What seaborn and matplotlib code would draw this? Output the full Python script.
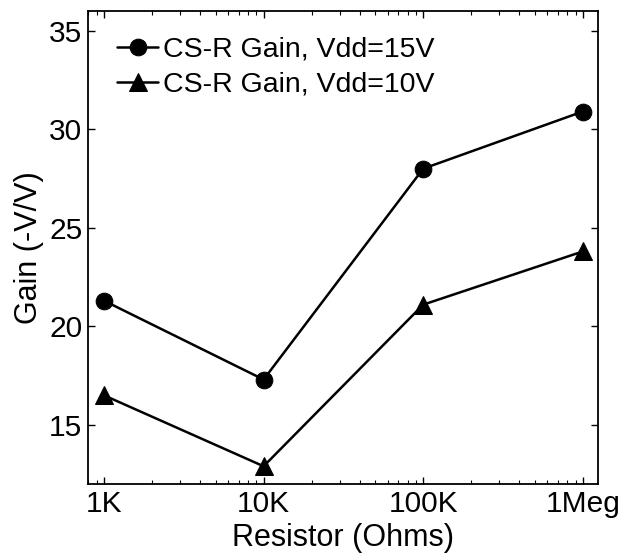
import matplotlib
matplotlib.use("Agg")
import matplotlib.pyplot as plt
import matplotlib.ticker as mticker
import numpy as np
import pandas as pd
import seaborn as sns

# Load resistor values (Ohms) and measured common-source gains
resistors = [1e3, 1e4, 1e5, 1e6]
tick_labels = ["1K", "10K", "100K", "1Meg"]
gain_vdd15 = [21.3, 17.3, 28.0, 30.9]
gain_vdd10 = [16.5, 12.9, 21.1, 23.8]
series_names = ["CS-R Gain, Vdd=15V", "CS-R Gain, Vdd=10V"]

df = pd.DataFrame({
    "Resistor": resistors * 2,
    "Gain": gain_vdd15 + gain_vdd10,
    "Series": [series_names[0]] * 4 + [series_names[1]] * 4,
})

sns.set_style("ticks")
plt.rcParams["font.family"] = ["Liberation Sans", "DejaVu Sans"]
plt.rcParams["text.color"] = "black"
plt.rcParams["axes.labelcolor"] = "black"

fig = plt.figure(figsize=(6.21, 5.57), dpi=100)
ax = fig.add_axes([88 / 621, 1 - 484 / 557, 510 / 621, 473 / 557])

sns.lineplot(
    data=df, x="Resistor", y="Gain", hue="Series", style="Series",
    palette=["black", "black"], markers={series_names[0]: "o", series_names[1]: "^"},
    dashes=False, markersize=12, markeredgecolor="black", linewidth=1.8,
    ax=ax,
)

# Triangles read a little small next to the circles; enlarge them
for ln in ax.lines:
    if ln.get_marker() == "^":
        ln.set_markersize(13.5)

ax.set_xscale("log")
ax.set_xlim(10 ** 2.9, 10 ** 6.095)
ax.set_ylim(12, 36)
ax.set_xticks(resistors)
ax.set_xticklabels(tick_labels)
ax.xaxis.set_minor_locator(mticker.LogLocator(base=10, subs=np.arange(2, 10)))
ax.xaxis.set_minor_formatter(mticker.NullFormatter())
ax.set_yticks([15, 20, 25, 30, 35])

for s in ax.spines.values():
    s.set_visible(True)
    s.set_linewidth(1.3)
    s.set_color("black")

ax.tick_params(which="both", direction="in", top=True, right=True, colors="black")
ax.tick_params(which="major", length=5, width=1, labelsize=21.5, pad=4)
ax.tick_params(which="minor", length=3, width=0.8)

ax.set_xlabel("Resistor (Ohms)", fontsize=22, labelpad=4)
ax.set_ylabel("Gain (-V/V)", fontsize=22, labelpad=4)

leg = ax.legend(loc="upper left", bbox_to_anchor=(0.035, 0.97), frameon=False,
                fontsize=20.5, handlelength=1.44, handletextpad=0.15,
                borderaxespad=0, labelspacing=0.33)
for h in leg.legend_handles:
    if h.get_marker() == "^":
        h.set_markersize(13.5)

fig.savefig("out.png", dpi=100)
